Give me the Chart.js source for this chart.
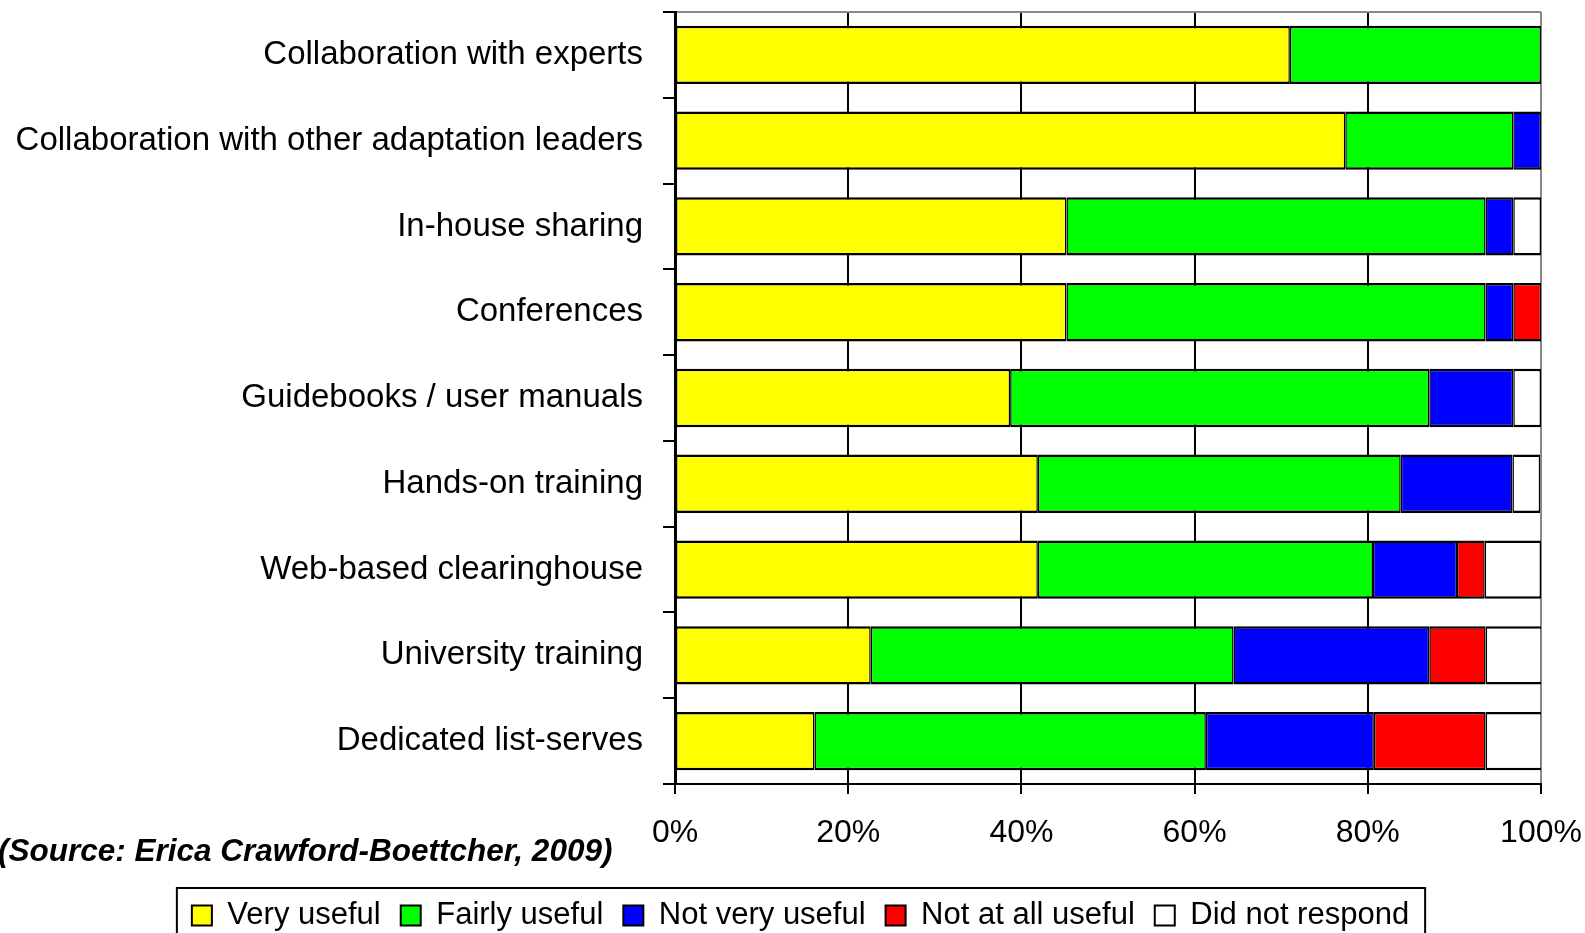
<!DOCTYPE html>
<html>
<head>
<meta charset="utf-8">
<script src="https://cdn.jsdelivr.net/npm/chart.js@4/dist/chart.umd.min.js"></script>
<style>
  html, body { margin: 0; padding: 0; background: #fff; }
  #wrap { width: 1585px; height: 933px; }
</style>
</head>
<body>
<div id="wrap"><canvas id="chart" width="1585" height="933"></canvas></div>
<script>
const categories = [
  'Collaboration with experts',
  'Collaboration with other adaptation leaders',
  'In-house sharing',
  'Conferences',
  'Guidebooks / user manuals',
  'Hands-on training',
  'Web-based clearinghouse',
  'University training',
  'Dedicated list-serves'
];

// percent of respondents
const very_useful      = [71.0, 77.4, 45.2, 45.2, 38.7, 41.9, 41.9, 22.6, 16.1];
const fairly_useful    = [29.0, 19.4, 48.4, 48.4, 48.4, 41.9, 38.7, 41.9, 45.2];
const not_very_useful  = [0, 3.2, 3.2, 3.2, 9.7, 12.9, 9.7, 22.6, 19.4];
const not_at_all       = [0, 0, 0, 3.2, 0, 0, 3.2, 6.5, 12.9];
const no_response      = [0, 0, 3.2, 0, 3.2, 3.2, 6.5, 6.5, 6.5];

const series_names = ['Very useful', 'Fairly useful', 'Not very useful', 'Not at all useful', 'Did not respond'];
const series_colors = ['#ffff00', '#00ff00', '#0000ff', '#ff0000', '#ffffff'];
const x_ticks = [0, 20, 40, 60, 80, 100];
const source_note = '(Source: Erica Crawford-Boettcher, 2009)';

const FONT = "'Liberation Sans', Arial, sans-serif";
const PLOT_LEFT = 675;
const X_AXIS_HEIGHT = 96;
const LEGEND_SHIFT = 30;

const all_values = [very_useful, fairly_useful, not_very_useful, not_at_all, no_response];

let datasets = all_values.map((vals, i) => ({
  label: series_names[i],
  data: vals,
  backgroundColor: series_colors[i],
  borderColor: '#000',
  borderWidth: {left: 1.5, right: 1.5, top: 2.5, bottom: 2.5},
  borderSkipped: false,
  categoryPercentage: 1,
  barPercentage: 0.68
}));

// legend offset, legend frame and source note
const extras = {
  id: 'extras',
  afterLayout(chart) {
    chart.legend.left += LEGEND_SHIFT;
    chart.legend.right += LEGEND_SHIFT;
  },
  afterDraw(chart) {
    const c = chart.ctx;
    const boxes = chart.legend.legendHitBoxes;
    const first = boxes[0];
    const last = boxes[boxes.length - 1];
    c.save();
    c.strokeStyle = '#000';
    c.lineWidth = 2;
    c.strokeRect(first.left - 15, first.top - 12, last.left + last.width - first.left + 31, 100);
    c.font = 'italic bold 31.5px ' + FONT;
    c.fillStyle = '#000';
    c.textBaseline = 'alphabetic';
    c.textAlign = 'left';
    c.fillText(source_note, -2, 861);
    c.restore();
  }
};

function no_scale_padding(s) {
  s.paddingTop = 0;
  s.paddingBottom = 0;
  s.paddingLeft = 0;
  s.paddingRight = 0;
}

new Chart(document.getElementById('chart'), {
  type: 'bar',
  data: { labels: categories, datasets: datasets },
  options: {
    indexAxis: 'y',
    responsive: false,
    animation: false,
    layout: { padding: { left: 0, right: 44, top: 12, bottom: -8 } },
    scales: {
      x: {
        stacked: true,
        min: 0,
        max: 100,
        afterBuildTicks: axis => { axis.ticks = x_ticks.map(v => ({ value: v })); },
        ticks: {
          callback: v => v + '%',
          color: '#000',
          font: { family: FONT, size: 32 },
          padding: 20,
          maxRotation: 0
        },
        grid: {
          color: c => c.index === 5 ? '#888' : '#000',
          tickColor: '#000',
          lineWidth: 2,
          tickWidth: 2,
          tickLength: 10
        },
        border: { color: '#000', width: 2 },
        afterFit: s => { s.height = X_AXIS_HEIGHT; no_scale_padding(s); }
      },
      y: {
        stacked: true,
        ticks: {
          color: '#000',
          font: { family: FONT, size: 33 },
          padding: 20,
          autoSkip: false
        },
        grid: {
          offset: true,
          color: c => c.index === 0 ? '#888' : 'rgba(0,0,0,0)',
          tickColor: '#000',
          lineWidth: 2,
          tickWidth: 2,
          tickLength: 12
        },
        border: { color: '#000', width: 3 },
        afterFit: s => { s.width = PLOT_LEFT; no_scale_padding(s); }
      }
    },
    plugins: {
      legend: {
        position: 'bottom',
        labels: {
          color: '#000',
          font: { family: FONT, size: 31 },
          boxWidth: 20,
          boxHeight: 20,
          padding: 20,
          generateLabels: chart => chart.data.datasets.map((d, i) => ({
            text: d.label,
            fillStyle: d.backgroundColor,
            strokeStyle: '#000',
            lineWidth: 2,
            datasetIndex: i,
            hidden: false
          }))
        }
      },
      tooltip: { enabled: false }
    }
  },
  plugins: [extras]
});
</script>
</body>
</html>
